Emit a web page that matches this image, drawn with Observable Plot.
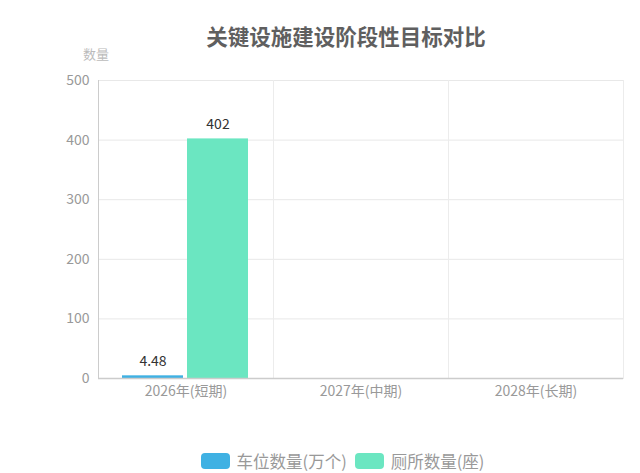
<!DOCTYPE html>
<html><head><meta charset="utf-8">
<script src="https://cdn.jsdelivr.net/npm/d3@7"></script>
<script src="https://cdn.jsdelivr.net/npm/@observablehq/plot@0.6"></script>
<style>
body{margin:0;background:#fff;font-family:"Noto Sans CJK SC","Noto Sans",sans-serif;}
#wrap{position:relative;width:640px;height:473px;overflow:hidden;}
#title{position:absolute;top:22px;left:0;width:640px;padding-left:52px;box-sizing:border-box;text-align:center;font-size:21.5px;font-weight:bold;color:#5f5f5f;line-height:28px;}
#ylab{position:absolute;top:44px;left:83px;font-size:13px;color:#bbb;}
#legend{position:absolute;top:450px;left:0;width:640px;display:flex;justify-content:center;padding-left:45px;box-sizing:border-box;font-size:16.5px;color:#999;line-height:22px;}
.item{display:flex;align-items:center;margin:0 4px;}
.sw{width:29px;height:16px;border-radius:4px;margin-right:7px;}
#chart{position:absolute;top:0;left:0;}
</style></head>
<body><div id="wrap"><div id="chart"></div><div id="title"></div><div id="ylab"></div><div id="legend"></div></div>
<script>
const categories = ["2026年(短期)", "2027年(中期)", "2028年(长期)"];
const seriesNames = ["车位数量(万个)", "厕所数量(座)"];
const parking = [4.48, null, null];
const toilets = [402, null, null];
const colors = ["#3fb1e3", "#6be6c1"];
const yTicks = [0, 100, 200, 300, 400, 500];
const titleText = "关键设施建设阶段性目标对比";
const yLabel = "数量";

const rows = [];
categories.forEach((c, i) => {
  rows.push({cat: c, series: seriesNames[0], value: parking[i]});
  rows.push({cat: c, series: seriesNames[1], value: toilets[i]});
});

document.getElementById("title").textContent = titleText;
document.getElementById("ylab").textContent = yLabel;
const leg = document.getElementById("legend");
seriesNames.forEach((s, i) => {
  const it = document.createElement("div"); it.className = "item";
  const sw = document.createElement("div"); sw.className = "sw"; sw.style.background = colors[i];
  const t = document.createElement("span"); t.textContent = s;
  it.appendChild(sw); it.appendChild(t); leg.appendChild(it);
});

const font = '"Noto Sans CJK SC","Noto Sans",sans-serif';
const chart = Plot.plot({
  width: 640, height: 473,
  marginTop: 80, marginBottom: 95, marginLeft: 97, marginRight: 16,
  style: {fontFamily: font, fontSize: "13px", color: "#999", background: "transparent"},
  fx: {domain: categories, padding: 0, label: null},
  x: {domain: seriesNames, paddingInner: 0.06, paddingOuter: 0.364, axis: null},
  y: {domain: [0, 500], ticks: yTicks, label: null},
  color: {domain: seriesNames, range: colors},
  marks: [
    Plot.gridY(yTicks, {stroke: "#e8e8e8", strokeOpacity: 1}),
    Plot.frame({anchor: "right", stroke: "#ececec", strokeOpacity: 1}),
    Plot.barY(rows, {fx: "cat", x: "series", y: "value", fill: "series"}),
    Plot.text(rows, {fx: "cat", x: "series", y: "value", text: d => d.value == null ? null : String(d.value), dy: -14, fill: "#333", fontSize: 14}),
    Plot.axisY(yTicks, {tickSize: 0, tickPadding: 9, fontSize: 14, fill: "#999"}),
    Plot.axisFx({anchor: "bottom", tickSize: 0, tickPadding: 8, fontSize: 14, fill: "#999", label: null}),
    Plot.ruleY([0], {stroke: "#ccc", strokeWidth: 1.5}),
    Plot.frame({anchor: "left", stroke: "#ccc", strokeOpacity: 1, facet: "super"})
  ]
});
document.getElementById("chart").appendChild(chart);
</script></body></html>
